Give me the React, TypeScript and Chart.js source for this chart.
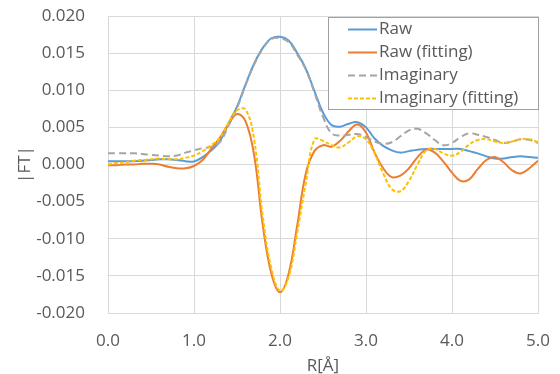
import React, { useEffect, useRef } from "react";
import { Chart, registerables } from "chart.js";

Chart.register(...registerables);

// R [Å] sample positions
const R = [
  0.0, 0.1, 0.2, 0.3, 0.4, 0.5, 0.6, 0.7, 0.8, 0.9,
  1.0, 1.1, 1.2, 1.3, 1.4, 1.5, 1.6, 1.7, 1.8, 1.9,
  2.0, 2.1, 2.2, 2.3, 2.4, 2.5, 2.6, 2.7, 2.8, 2.9,
  3.0, 3.1, 3.2, 3.3, 3.4, 3.5, 3.6, 3.7, 3.8, 3.9,
  4.0, 4.1, 4.2, 4.3, 4.4, 4.5, 4.6, 4.7, 4.8, 4.9,
  5.0,
];

const raw = [
  0.00045, 0.00045, 0.00045, 0.00045, 0.0005, 0.0006, 0.0007, 0.0007, 0.0006, 0.00045,
  0.0004, 0.0010, 0.0019, 0.0031, 0.0055, 0.0078, 0.0108, 0.0136, 0.0157, 0.0170,
  0.0172, 0.0167, 0.0150, 0.0129, 0.0099, 0.0070, 0.0053, 0.0051, 0.0055, 0.0057,
  0.0050, 0.0035, 0.0025, 0.0019, 0.0016, 0.0018, 0.0020, 0.0021, 0.0021, 0.0021,
  0.0021, 0.0021, 0.0018, 0.0015, 0.0011, 0.0008, 0.0008, 0.0010, 0.0011, 0.0010,
  0.0009,
];

const rawFitting = [
  -0.0001, -0.0001, 0.0, 0.0, 0.0001, 0.0001, 0.0, -0.0003, -0.0005, -0.0005,
  -0.0002, 0.0006, 0.0021, 0.0036, 0.0054, 0.0068, 0.0058, 0.0012, -0.0082, -0.0147,
  -0.0172, -0.0147, -0.0082, -0.0012, 0.0018, 0.0026, 0.0024, 0.0032, 0.0045, 0.0054,
  0.0043, 0.0016, -0.0005, -0.0017, -0.0015, -0.0005, 0.0010, 0.0020, 0.0016, 0.0004,
  -0.0011, -0.0022, -0.0020, -0.0006, 0.0006, 0.0010, 0.0003, -0.0008, -0.0012, -0.0005,
  0.0005,
];

const imaginary = [
  0.0015, 0.0015, 0.0015, 0.0015, 0.0014, 0.0013, 0.0012, 0.0011, 0.0012, 0.0016,
  0.0019, 0.0022, 0.0024, 0.0030, 0.0052, 0.0076, 0.0107, 0.0135, 0.0156, 0.0169,
  0.0170, 0.0165, 0.0148, 0.0128, 0.0097, 0.0064, 0.0042, 0.0039, 0.0040, 0.0041,
  0.0037, 0.0031, 0.0028, 0.0030, 0.0038, 0.0046, 0.0048, 0.0042, 0.0033, 0.0026,
  0.0029, 0.0037, 0.0042, 0.0040, 0.0037, 0.0033, 0.0029, 0.0031, 0.0034, 0.0033,
  0.0029,
];

const imaginaryFitting = [
  0.0000, 0.0002, 0.0003, 0.0005, 0.0006, 0.0007, 0.0008, 0.0007, 0.0007, 0.0009,
  0.0012, 0.0018, 0.0026, 0.0036, 0.0056, 0.0073, 0.0074, 0.0033, -0.0070, -0.0140,
  -0.0170, -0.0152, -0.0092, -0.0025, 0.0034, 0.0032, 0.0026, 0.0023, 0.0030, 0.0038,
  0.0034, 0.0015, -0.0012, -0.0033, -0.0036, -0.0022, 0.0000, 0.0019, 0.0021, 0.0015,
  0.0012, 0.0017, 0.0027, 0.0033, 0.0034, 0.0031, 0.0029, 0.0031, 0.0034, 0.0034,
  0.0030,
];

const seriesNames = ["Raw", "Raw (fitting)", "Imaginary", "Imaginary (fitting)"];
const seriesColors = ["#5B9BD5", "#ED7D31", "#A5A5A5", "#FFC000"];
const seriesDashes: number[][] = [[], [], [7, 4], [4, 2]];

const xTitle = "R[Å]";
const yTitle = "|FT|";

const FONT = "'Open Sans', 'Noto Sans', sans-serif";
const TEXT = "#595959";
const GRID = "#d9d9d9";

const boxLegend = {
  id: "boxLegend",
  afterDraw(chart: any) {
    const { ctx, chartArea } = chart;
    const w = 210;
    const h = 92;
    const right = chartArea.right;
    const left = right - w;
    const top = chartArea.top + 1;
    ctx.save();
    ctx.fillStyle = "#ffffff";
    ctx.fillRect(left, top, w, h);
    ctx.strokeStyle = "#a0a0a0";
    ctx.lineWidth = 1;
    ctx.strokeRect(Math.round(left) + 0.5, Math.round(top) + 0.5, w, h);
    ctx.font = `17px ${FONT}`;
    ctx.textBaseline = "middle";
    ctx.textAlign = "left";
    chart.data.datasets.forEach((ds: any, i: number) => {
      const y = top + 12.5 + i * 23;
      ctx.beginPath();
      ctx.strokeStyle = ds.borderColor;
      ctx.lineWidth = 2;
      ctx.setLineDash(ds.borderDash || []);
      ctx.moveTo(left + 20, y);
      ctx.lineTo(left + 49, y);
      ctx.stroke();
      ctx.setLineDash([]);
      ctx.fillStyle = TEXT;
      ctx.fillText(ds.label, left + 51, y);
    });
    ctx.restore();
  },
};

export default function App() {
  const ref = useRef<HTMLCanvasElement | null>(null);

  useEffect(() => {
    if (!ref.current) return;
    const all = [raw, rawFitting, imaginary, imaginaryFitting];
    const chart = new Chart(ref.current, {
      type: "line",
      data: {
        datasets: all.map((vals, i) => ({
          label: seriesNames[i],
          data: R.map((r, j) => ({ x: r, y: vals[j] })),
          borderColor: seriesColors[i],
          backgroundColor: seriesColors[i],
          borderDash: seriesDashes[i],
          borderWidth: 2,
          pointRadius: 0,
          fill: false,
          tension: 0.4,
          order: 4 - i,
        })),
      },
      options: {
        animation: false,
        responsive: false,
        layout: { padding: { left: 0, right: 22, top: 16, bottom: 0 } },
        plugins: {
          legend: { display: false },
          tooltip: { enabled: false },
        },
        scales: {
          x: {
            type: "linear",
            min: 0,
            max: 5,
            afterFit: (s: any) => {
              s.height = 61;
              s.paddingLeft = 0;
              s.paddingRight = 0;
            },
            ticks: {
              stepSize: 1,
              padding: 18,
              color: TEXT,
              font: { family: FONT, size: 17 },
              callback: (v: any) => Number(v).toFixed(1),
            },
            grid: { color: GRID, lineWidth: 1, drawTicks: false },
            border: { display: true, color: GRID },
            title: {
              display: true,
              text: xTitle,
              color: TEXT,
              font: { family: FONT, size: 17 },
              padding: { top: 0, bottom: -2 },
            },
          },
          y: {
            type: "linear",
            min: -0.02,
            max: 0.02,
            afterFit: (s: any) => {
              s.width = 108;
              s.paddingTop = 0;
              s.paddingBottom = 0;
            },
            ticks: {
              stepSize: 0.005,
              padding: 23,
              color: TEXT,
              font: { family: FONT, size: 17 },
              callback: (v: any) => Number(v).toFixed(3),
            },
            grid: { color: GRID, lineWidth: 1, drawTicks: false },
            border: { display: true, color: GRID },
            title: {
              display: true,
              text: yTitle,
              color: TEXT,
              font: { family: FONT, size: 17 },
              padding: { top: 15, bottom: 0 },
            },
          },
        },
      },
      plugins: [boxLegend],
    });
    return () => chart.destroy();
  }, []);

  return (
    <div style={{ position: "absolute", left: 0, top: 0, width: 560, height: 374, background: "#fff" }}>
      <canvas ref={ref} width={560} height={374} style={{ display: "block" }} />
    </div>
  );
}
